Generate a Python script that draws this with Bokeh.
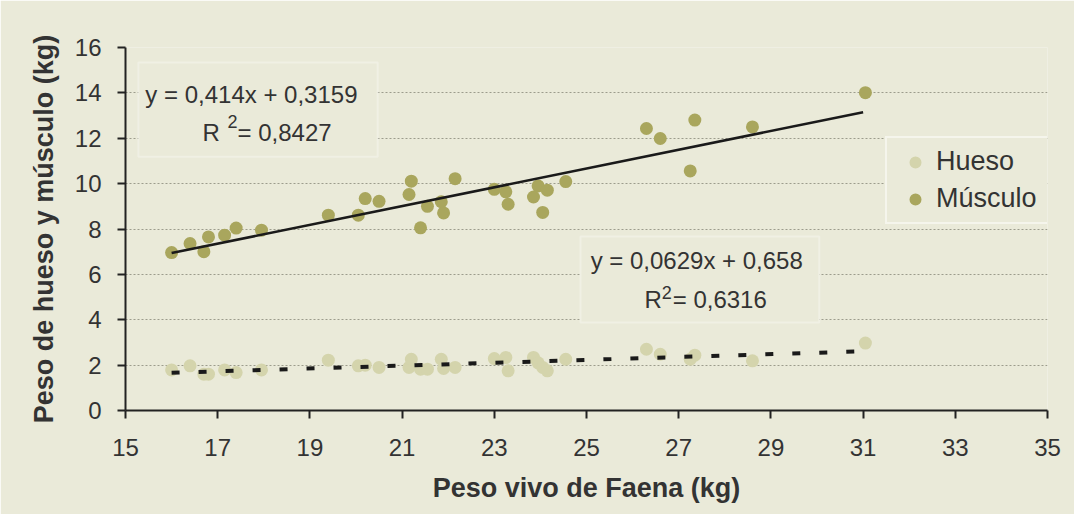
from bokeh.plotting import figure
from bokeh.models import (Range1d, FixedTicker, Label, BoxAnnotation, Legend, LegendItem,
                          ColumnDataSource)
from bokeh.embed import file_html
from bokeh.resources import INLINE

# ---------------- data ----------------
peso_vivo = [16.0, 16.4, 16.7, 16.8, 17.15, 17.4, 17.95, 19.4, 20.05, 20.2, 20.5, 21.15,
             21.2, 21.4, 21.55, 21.85, 21.9, 22.15, 23.0, 23.25, 23.3, 23.85, 23.95, 24.05,
             24.15, 24.55, 26.3, 26.6, 27.25, 27.35, 28.6, 31.05]
musculo = [6.96, 7.36, 7.0, 7.65, 7.73, 8.04, 7.95, 8.61, 8.61, 9.34, 9.22, 9.52,
           10.11, 8.05, 9.0, 9.2, 8.71, 10.22, 9.75, 9.64, 9.09, 9.41, 9.9, 8.73,
           9.71, 10.09, 12.43, 11.99, 10.56, 12.8, 12.5, 14.01]
hueso = [1.79, 1.97, 1.6, 1.6, 1.79, 1.67, 1.79, 2.22, 1.97, 2.0, 1.9, 1.9,
         2.26, 1.82, 1.82, 2.26, 1.85, 1.9, 2.29, 2.34, 1.75, 2.34, 2.1, 1.9,
         1.75, 2.26, 2.7, 2.48, 2.26, 2.44, 2.19, 2.97]

# trend lines (as printed on the chart)
musc_slope, musc_intercept = 0.414, 0.3159
hueso_slope, hueso_intercept = 0.0629, 0.658
trend_x = [16.0, 31.0]

x_ticks = [15, 17, 19, 21, 23, 25, 27, 29, 31, 33, 35]
y_ticks = [0, 2, 4, 6, 8, 10, 12, 14, 16]

eq_musc = "y = 0,414x + 0,3159"
r2_musc = "= 0,8427"
eq_hueso = "y = 0,0629x + 0,658"
r2_hueso = "= 0,6316"

# ---------------- styling ----------------
BG = "#eaead9"
C_MUSC = "#a9a65d"
C_HUESO = "#d4d4ac"
TXT = "#333333"
FONT = "Liberation Sans"

p = figure(width=1074, height=514, output_backend="svg", toolbar_location=None,
           x_range=Range1d(15, 35), y_range=Range1d(0, 16),
           min_border_left=125, min_border_right=27, min_border_top=47, min_border_bottom=104)
p.background_fill_color = BG
p.border_fill_color = BG
p.outline_line_color = None

# axes
for ax in (p.xaxis[0], p.yaxis[0]):
    ax.axis_line_color = "#222222"
    ax.axis_line_width = 2
    ax.major_tick_line_color = "#222222"
    ax.major_tick_line_width = 2
    ax.major_tick_out = 8
    ax.major_tick_in = 0
    ax.minor_tick_line_color = None
    ax.major_label_text_font = FONT
    ax.major_label_text_font_size = "24px"
    ax.major_label_text_color = TXT
    ax.axis_label_text_font = FONT
    ax.axis_label_text_font_style = "bold"
    ax.axis_label_text_font_size = "27px"
    ax.axis_label_text_color = TXT

p.xaxis.ticker = FixedTicker(ticks=x_ticks)
p.yaxis.ticker = FixedTicker(ticks=y_ticks)
p.xaxis.axis_label = "Peso vivo de Faena (kg)"
p.yaxis.axis_label = "Peso de hueso y músculo (kg)"
p.xaxis.major_label_standoff = 20
p.yaxis.major_label_standoff = 16
p.xaxis.axis_label_standoff = 14
p.yaxis.axis_label_standoff = 13

p.xgrid.grid_line_color = None
p.ygrid.grid_line_color = "#9c9c8c"
p.ygrid.grid_line_dash = "2 2"
p.ygrid.grid_line_width = 1

src = ColumnDataSource(dict(x=peso_vivo, m=musculo, h=hueso))
r_h = p.scatter("x", "h", source=src, size=13, color=C_HUESO, line_color=None)
r_m = p.scatter("x", "m", source=src, size=13, color=C_MUSC, line_color=None)

# trend lines
p.line(trend_x, [musc_slope * v + musc_intercept for v in trend_x],
       line_color="#1a1a1a", line_width=2.5)
p.line(trend_x, [hueso_slope * v + hueso_intercept for v in trend_x],
       line_color="#1a1a1a", line_width=4, line_dash="8 19")

# equation boxes
p.add_layout(BoxAnnotation(left=15.28, right=20.47, top=15.34, bottom=11.19,
                           fill_color=BG, fill_alpha=1, line_color="white", line_width=2))
p.add_layout(BoxAnnotation(left=24.87, right=30.05, top=7.67, bottom=3.88,
                           fill_color=BG, fill_alpha=1, line_color="white", line_width=2))

def lab(x, y, t, size="24px"):
    p.add_layout(Label(x=x, y=y, text=t, text_font=FONT, text_font_size=size,
                       text_color=TXT, text_baseline="middle", text_align="left"))

lab(15.43, 13.93, eq_musc)
lab(16.67, 12.25, "R")
lab(17.21, 12.72, "2", "18px")
lab(17.43, 12.25, r2_musc)

lab(25.09, 6.61, eq_hueso)
lab(26.26, 4.89, "R")
lab(26.63, 5.22, "2", "18px")
lab(26.87, 4.89, r2_hueso)

legend = Legend(items=[LegendItem(label="Hueso", renderers=[r_h]),
                       LegendItem(label="Músculo", renderers=[r_m])],
                location=(760, 186))
legend.label_text_font = FONT
legend.label_text_font_size = "27px"
legend.label_text_color = TXT
legend.border_line_color = "white"
legend.border_line_width = 2
legend.background_fill_color = BG
legend.background_fill_alpha = 1
legend.label_height = 30
legend.glyph_height = 30
legend.glyph_width = 40
legend.padding = 8
legend.spacing = 6
legend.label_standoff = 1
legend.margin = 0
legend.label_width = 108
p.add_layout(legend)

open("out.html", "w").write(file_html(p, INLINE))
